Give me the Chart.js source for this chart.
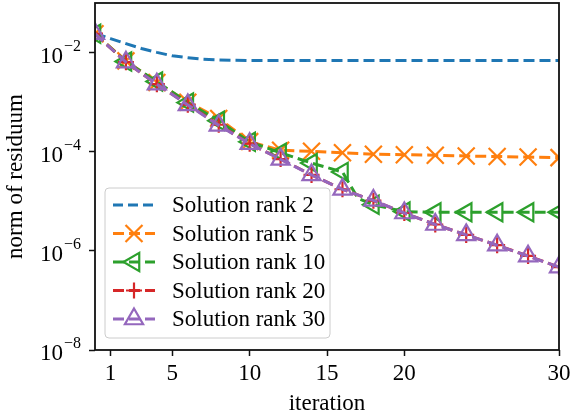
<!DOCTYPE html>
<html>
<head>
<meta charset="utf-8">
<script src="https://cdn.jsdelivr.net/npm/chart.js@4.4.1/dist/chart.umd.min.js"></script>
<style>
    html, body { margin: 0; padding: 0; background: #fff; }
    #contenedor { width: 576px; height: 420px; }
</style>
</head>
<body>
<div id="contenedor"><canvas id="chartResiduo" width="576" height="420"></canvas></div>
<script>
// ----------------------------------------------------------
// DATOS: norma del residuo por iteración
// rank 2 se guarda en cada iteración (sin marcadores),
// el resto en iteraciones pares (rank 10 con un punto extra en 17)
// ----------------------------------------------------------
const iterRank2  = [0, 1, 2, 3, 4, 5, 6, 7, 8, 9, 10, 11, 12, 13, 14, 15,
                    16, 17, 18, 19, 20, 21, 22, 23, 24, 25, 26, 27, 28, 29, 30];
const residRank2 = [0.0245, 0.0191, 0.0151, 0.0121, 0.0101, 0.0086, 0.0079, 0.0073,
                    0.0071, 0.0070, 0.0069, 0.0069, 0.0069, 0.0069, 0.0069, 0.0069,
                    0.0069, 0.0069, 0.0069, 0.0069, 0.0069, 0.0069, 0.0069, 0.0069,
                    0.0069, 0.0069, 0.0069, 0.0069, 0.0069, 0.0069, 0.0069];

const iterPares  = [0, 2, 4, 6, 8, 10, 12, 14, 16, 18, 20, 22, 24, 26, 28, 30];
const residRank5 = [0.024, 6.8e-3, 2.5e-3, 1.0e-3, 4.7e-4, 1.6e-4, 1.07e-4, 1.02e-4,
                    9.5e-5, 8.9e-5, 8.7e-5, 8.5e-5, 8.2e-5, 8.0e-5, 7.8e-5, 7.6e-5];

const iterRank10  = [0, 2, 4, 6, 8, 10, 12, 14, 16, 17, 18, 20, 22, 24, 26, 28, 30];
const residRank10 = [0.024, 6.6e-3, 2.6e-3, 9.8e-4, 4.2e-4, 1.58e-4, 9.5e-5, 5.9e-5,
                     3.9e-5, 1.15e-5, 8.5e-6, 6.2e-6, 6.0e-6, 6.0e-6, 6.0e-6, 6.0e-6, 6.0e-6];

const residRank20 = [0.024, 6.4e-3, 2.3e-3, 8.9e-4, 3.5e-4, 1.45e-4, 7.1e-5, 3.4e-5,
                     1.75e-5, 1.03e-5, 5.8e-6, 3.4e-6, 2.1e-6, 1.3e-6, 7.9e-7, 4.7e-7];
const residRank30 = [0.024, 6.4e-3, 2.3e-3, 8.8e-4, 3.4e-4, 1.45e-4, 7.0e-5, 3.4e-5,
                     1.74e-5, 1.04e-5, 5.8e-6, 3.4e-6, 2.1e-6, 1.3e-6, 7.8e-7, 4.7e-7];

const etiquetas = ['Solution rank 2', 'Solution rank 5', 'Solution rank 10',
                   'Solution rank 20', 'Solution rank 30'];

const ticksX = [1, 5, 10, 15, 20, 30];
const ticksY = [1e-8, 1e-6, 1e-4, 1e-2];


// ----------------------------------------------------------
// ESTILO (colores tab10 de matplotlib)
// ----------------------------------------------------------
const colores   = ['#1f77b4', '#ff7f0e', '#2ca02c', '#d62728', '#9467bd'];
const fuente    = "'Liberation Serif', 'DejaVu Serif', serif";
const trazo     = [11, 5];
const marcadores = [
    { pointStyle: false,      radius: 0,    rotation: 0 },
    { pointStyle: 'crossRot', radius: 12,   rotation: 0 },
    { pointStyle: 'triangle', radius: 10.5, rotation: 270 },
    { pointStyle: 'cross',    radius: 8,    rotation: 0 },
    { pointStyle: 'triangle', radius: 10.5, rotation: 0 }
];

const puntos = (xs, ys) => xs.map((x, i) => ({ x: x, y: ys[i] }));

const series = [
    puntos(iterRank2, residRank2),
    puntos(iterPares, residRank5),
    puntos(iterRank10, residRank10),
    puntos(iterPares, residRank20),
    puntos(iterPares, residRank30)
];

// marcador solo en iteraciones pares (el 17 de rank 10 queda sin marca)
const radioMarca = (k) => (ctx) => (ctx.raw && ctx.raw.x % 2 === 0) ? marcadores[k].radius : 0;

const datasets = series.map((datos, k) => ({
    label: etiquetas[k],
    data: datos,
    borderColor: colores[k],
    borderWidth: 3,
    borderDash: trazo,
    tension: 0,
    fill: false,
    // en matplotlib la última serie queda arriba
    order: series.length - 1 - k,
    pointStyle: marcadores[k].pointStyle || 'circle',
    pointRotation: marcadores[k].rotation,
    pointRadius: k === 0 ? 0 : radioMarca(k),
    pointHoverRadius: 0,
    pointBorderWidth: 2.2,
    pointBorderColor: colores[k],
    pointBackgroundColor: 'rgba(0,0,0,0)'
}));


// ----------------------------------------------------------
// PLUGIN: marco de los ejes, etiquetas 10^n y leyenda
// ----------------------------------------------------------
const marcoPlugin = {
    id: 'marco',
    afterDatasetsDraw(chart) {
        const { ctx, chartArea: a } = chart;
        ctx.save();
        ctx.strokeStyle = '#111';
        ctx.lineWidth = 1.8;
        ctx.setLineDash([]);
        ctx.strokeRect(a.left, a.top, a.right - a.left, a.bottom - a.top);
        ctx.restore();
    }
};

const potenciasPlugin = {
    id: 'potencias',
    afterDraw(chart) {
        const { ctx, chartArea: a } = chart;
        const escalaY = chart.scales.y;
        ctx.save();
        ctx.fillStyle = '#000';
        ctx.textBaseline = 'alphabetic';
        ticksY.forEach(v => {
            const y = escalaY.getPixelForValue(v);
            const exp = '\u2212' + Math.abs(Math.round(Math.log10(v)));
            const derecha = a.left - 14;
            ctx.font = '16px ' + fuente;
            ctx.textAlign = 'right';
            const anchoExp = ctx.measureText(exp).width;
            ctx.fillText(exp, derecha, y - 2);
            ctx.font = '23px ' + fuente;
            ctx.fillText('10', derecha - anchoExp - 1, y + 10);
        });
        ctx.restore();
    }
};

const leyendaPlugin = {
    id: 'leyenda',
    afterDraw(chart) {
        const { ctx, chartArea: a } = chart;
        const bx = a.left + 10, by = a.bottom - 162, bw = 225, bh = 150, r = 4;
        ctx.save();
        ctx.beginPath();
        ctx.moveTo(bx + r, by);
        ctx.arcTo(bx + bw, by, bx + bw, by + bh, r);
        ctx.arcTo(bx + bw, by + bh, bx, by + bh, r);
        ctx.arcTo(bx, by + bh, bx, by, r);
        ctx.arcTo(bx, by, bx + bw, by, r);
        ctx.closePath();
        ctx.fillStyle = 'rgba(255,255,255,0.8)';
        ctx.fill();
        ctx.strokeStyle = '#cccccc';
        ctx.lineWidth = 1;
        ctx.stroke();

        chart.data.datasets.forEach((ds, k) => {
            const y = by + 17 + k * 28.5;
            const x0 = bx + 8, x1 = bx + 50;
            ctx.strokeStyle = ds.borderColor;
            ctx.lineWidth = ds.borderWidth;
            ctx.setLineDash(k === 0 ? [10, 5] : trazo);
            ctx.beginPath();
            ctx.moveTo(x0, y);
            ctx.lineTo(x1, y);
            ctx.stroke();
            ctx.setLineDash([]);
            if (marcadores[k].pointStyle && Chart.helpers && Chart.helpers.drawPoint) {
                ctx.lineWidth = 2.2;
                ctx.fillStyle = 'rgba(0,0,0,0)';
                Chart.helpers.drawPoint(ctx, {
                    pointStyle: marcadores[k].pointStyle,
                    rotation: marcadores[k].rotation,
                    radius: marcadores[k].radius,
                    borderWidth: 2.2
                }, (x0 + x1) / 2, y);
            }
            ctx.fillStyle = '#000';
            ctx.font = '23px ' + fuente;
            ctx.textAlign = 'left';
            ctx.textBaseline = 'middle';
            ctx.fillText(ds.label, bx + 67, y + 1);
        });
        ctx.restore();
    }
};


// ----------------------------------------------------------
// GRÁFICA: norma del residuo (escala logarítmica)
// ----------------------------------------------------------
new Chart(document.getElementById('chartResiduo'), {
    type: 'line',
    data: { datasets: datasets },
    options: {
        responsive: false,
        animation: false,
        devicePixelRatio: 1,
        // sin autoPadding: el área no se encoge por el tamaño de los marcadores
        layout: { autoPadding: false, padding: { top: 3, right: 17, left: 0, bottom: 0 } },
        plugins: {
            legend: { display: false },
            tooltip: { enabled: false }
        },
        scales: {
            x: {
                type: 'linear',
                min: 0,
                max: 30,
                afterBuildTicks: (s) => { s.ticks = ticksX.map(v => ({ value: v })); },
                afterFit: (s) => { s.height = 70; s.paddingLeft = 0; s.paddingRight = 0; },
                border: { display: false },
                grid: {
                    drawOnChartArea: false,
                    drawTicks: true,
                    tickLength: 6,
                    tickWidth: 1.5,
                    tickColor: '#111'
                },
                ticks: {
                    color: '#000',
                    font: { family: fuente, size: 23 },
                    padding: 4,
                    maxRotation: 0,
                    autoSkip: false
                },
                title: {
                    display: true,
                    text: 'iteration',
                    color: '#000',
                    font: { family: fuente, size: 23 },
                    padding: { top: 0, bottom: 2 }
                }
            },
            y: {
                type: 'logarithmic',
                min: 1e-8,
                max: 0.1,
                afterBuildTicks: (s) => { s.ticks = ticksY.map(v => ({ value: v })); },
                afterFit: (s) => { s.width = 95; s.paddingTop = 0; s.paddingBottom = 0; },
                border: { display: false },
                grid: {
                    drawOnChartArea: false,
                    drawTicks: true,
                    tickLength: 6,
                    tickWidth: 1.5,
                    tickColor: '#111'
                },
                ticks: {
                    // las etiquetas 10^n se dibujan en el plugin
                    display: false
                },
                title: {
                    display: true,
                    text: 'norm of residuum',
                    color: '#000',
                    font: { family: fuente, size: 23 },
                    padding: { top: 2, bottom: 0 }
                }
            }
        }
    },
    plugins: [marcoPlugin, potenciasPlugin, leyendaPlugin]
});
</script>
</body>
</html>
